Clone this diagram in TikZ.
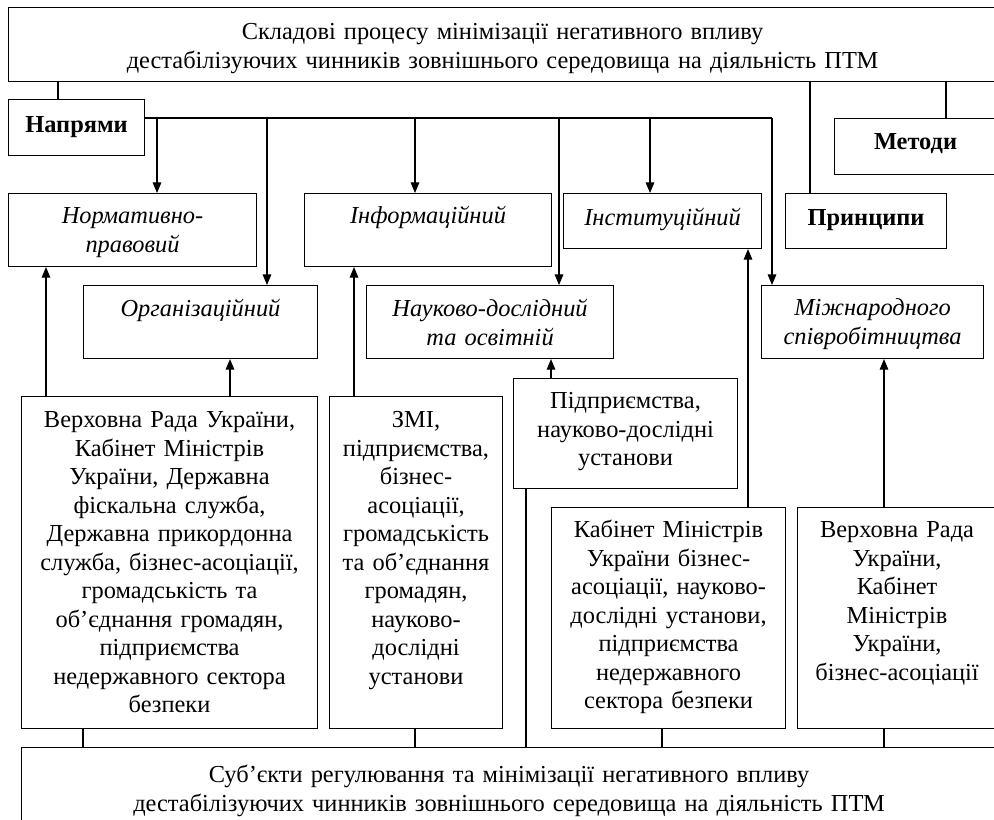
\documentclass[tikz,border=0pt]{standalone}
\usepackage{fontspec}
\setmainfont{Liberation Serif}
\usetikzlibrary{arrows.meta}
\newcommand{\boxfont}{\fontsize{18.3}{21.4}\selectfont}
\tikzset{
  box/.style  = {shape=rectangle, draw, line width=0.8pt, inner sep=0pt,
                 align=center, anchor=north west, font=\boxfont},
  way/.style  = {box, font=\boxfont\itshape},
  head/.style = {box, font=\boxfont\bfseries},
  link/.style = {draw, line width=0.8pt},
  arr/.style  = {link, -{Triangle[length=8pt,width=6.5pt]}},
}

\begin{document}
\begin{tikzpicture}[x=0.75pt, y=-0.75pt]
	\useasboundingbox (0,0) rectangle (994,819);
	\clip (0,0) rectangle (994,819);

	\node [box, text width=741pt, text height=24pt, text depth=31.5pt] (top) at (8,7)
		{Складові процесу мінімізації негативного впливу\\
		 дестабілізуючих чинників зовнішнього середовища на діяльність ПТМ};
	\node [head, text width=102pt, text height=24.75pt, text depth=17.25pt] (napr) at (8,99) {Напрями};
	\node [head, text width=121.5pt, text height=23.25pt, text depth=18.75pt] (metody) at (834,118) {Методи};
	\node [head, text width=120.75pt, text height=24pt, text depth=17.25pt] (princ) at (785,193) {Принципи};

	% напрями
	\node [way, text width=186pt, text height=22.5pt, text depth=32.25pt] (norm) at (8,193) {Нормативно-\\правовий};
	\node [way, text width=185.25pt, text height=22.5pt, text depth=32.25pt] (inf) at (304,193) {Інформаційний};
	\node [way, text width=148.5pt, text height=24pt, text depth=17.25pt] (inst) at (563,193) {Інституційний};
	\node [way, text width=175.5pt, text height=23.25pt, text depth=31.5pt] (org) at (83,285) {Організаційний};
	\node [way, text width=185.25pt, text height=23.25pt, text depth=31.5pt] (nauk) at (366,285) {Науково-дослідний\\та освітній};
	\node [way, text width=166.5pt, text height=22.5pt, text depth=32.25pt] (mizh) at (761,285) {Міжнародного\\співробітництва};

	% суб'єкти
	\node [box, text width=222pt, text height=23.25pt, text depth=225.75pt] (vrada) at (21,396)
		{Верховна Рада України,\\Кабінет Міністрів\\України, Державна\\фіскальна служба,\\
		 Державна прикордонна\\служба, бізнес-асоціації,\\громадськість та\\об’єднання громадян,\\
		 підприємства\\недержавного сектора\\безпеки};
	\node [box, text width=129.75pt, text height=23.25pt, text depth=225.75pt] (zmi) at (329,396)
		{ЗМІ,\\підприємства,\\бізнес-\\асоціації,\\громадськість\\та об’єднання\\громадян,\\науково-\\дослідні\\установи};
	\node [box, text width=168pt, text height=22.5pt, text depth=60pt] (pidpr) at (513,378)
		{Підприємства,\\науково-дослідні\\установи};
	\node [box, text width=175.5pt, text height=22.5pt, text depth=143.25pt] (kmu) at (551,507)
		{Кабінет Міністрів\\України бізнес-\\асоціації, науково-\\дослідні установи,\\підприємства\\недержавного\\сектора безпеки};
	\node [box, text width=149.25pt, text height=22.5pt, text depth=143.25pt] (vrada2) at (797,507)
		{Верховна Рада\\України,\\Кабінет\\Міністрів\\України,\\бізнес-асоціації};
	\node [box, text width=731.25pt, text height=26.25pt, text depth=60pt] (subj) at (21,747)
		{Суб’єкти регулювання та мінімізації негативного впливу\\
		 дестабілізуючих чинників зовнішнього середовища на діяльність ПТМ};

	% from the top box
	\draw [link] (top.south -| 58,0) -- (napr.north -| 58,0);
	\draw [link] (top.south -| 810,0) -- (princ.north -| 810,0);
	\draw [link] (top.south -| 946,0) -- (metody.north -| 946,0);

	% bus of the directions
	\coordinate (bus) at (napr.east |- 0,118);
	\draw [link, line width=1.2pt] (bus) -- (bus -| 772,0);
	\draw [arr] (bus -| 157,0) -- (norm.north -| 157,0);
	\draw [arr] (bus -| 267,0) -- (org.north -| 267,0);
	\draw [arr] (bus -| 415,0) -- (inf.north -| 415,0);
	\draw [arr] (bus -| 559,0) -- (nauk.north -| 559,0);
	\draw [arr] (bus -| 650,0) -- (inst.north -| 650,0);
	\draw [arr] (bus -| 772,0) -- (mizh.north -| 772,0);

	% subjects up to the directions
	\draw [arr] (vrada.north -| 46,0) -- (norm.south -| 46,0);
	\draw [arr] (vrada.north -| 230,0) -- (org.south -| 230,0);
	\draw [arr] (zmi.north -| 354,0) -- (inf.south -| 354,0);
	\draw [arr] (pidpr.north -| 551,0) -- (nauk.south -| 551,0);
	\draw [arr] (kmu.north -| 748,0) -- (inst.south -| 748,0);
	\draw [arr] (vrada2.north -| 884,0) -- (mizh.south -| 884,0);

	% down to the subjects box
	\draw [link] (vrada.south -| 83,0) -- (subj.north -| 83,0);
	\draw [link] (zmi.south -| 415,0) -- (subj.north -| 415,0);
	\draw [link, line width=1.2pt] (pidpr.south -| 526,0) -- (subj.north -| 526,0);
	\draw [link] (kmu.south -| 662,0) -- (subj.north -| 662,0);
	\draw [link] (vrada2.south -| 884,0) -- (subj.north -| 884,0);
\end{tikzpicture}
\end{document}
